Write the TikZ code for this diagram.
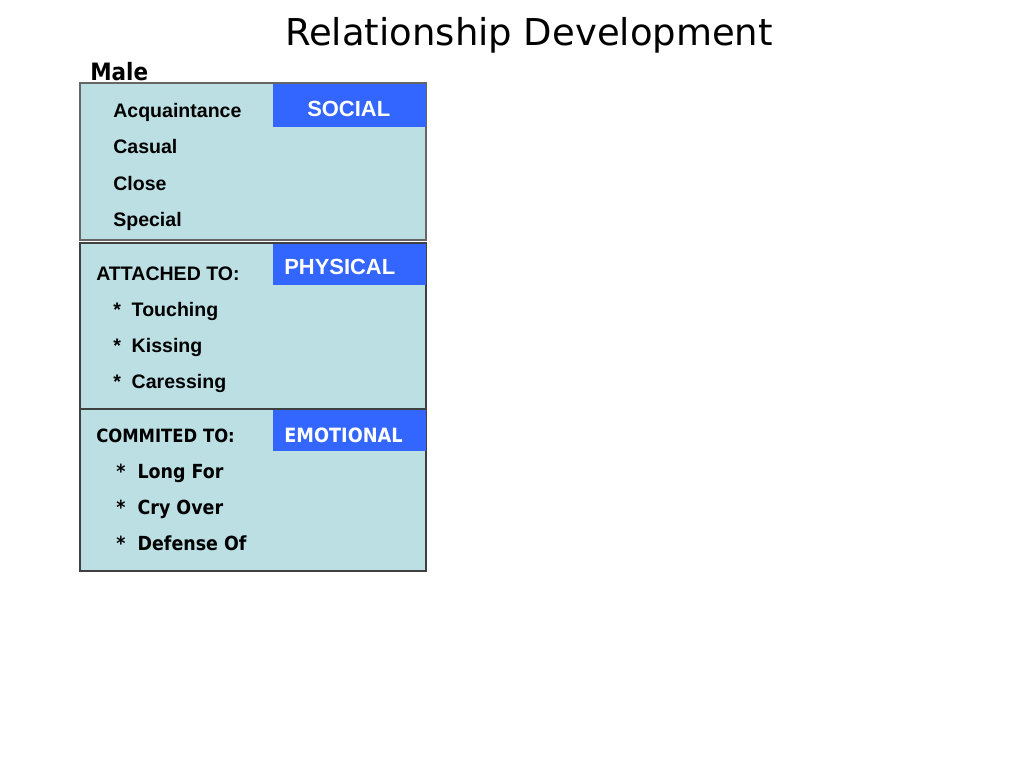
\documentclass[tikz,border=0pt]{standalone}
\usepackage{fontspec}
\setmainfont{Liberation Sans}
\newfontfamily\titlefont{DejaVu Sans}
\newfontfamily\tahfont[FakeStretch=0.9]{DejaVu Sans}
\definecolor{boxfill}{HTML}{BBDFE3}
\definecolor{tagblue}{HTML}{3366FF}
\tikzset{
  item/.style={anchor=base west, inner sep=0pt, font=\fontsize{13.9}{16}\selectfont\bfseries},
  titem/.style={anchor=base west, inner sep=0pt, font=\tahfont\fontsize{13.8}{16}\selectfont\bfseries},
  tag/.style={anchor=base west, inner sep=0pt, text=white, font=\fontsize{15.6}{18}\selectfont\bfseries},
  panel/.style={fill=boxfill, draw=black!75, line width=0.8pt}
}
\begin{document}
\begin{tikzpicture}[x=0.025cm, y=-0.025cm]
\useasboundingbox (0,0) rectangle (1024,768);
\node[anchor=base, inner sep=0pt, font=\titlefont\fontsize{26.3}{30}\selectfont] (title) at (529,46) {Relationship Development};
\node[anchor=base west, inner sep=0pt, font=\tahfont\fontsize{17}{20}\selectfont\bfseries] (male) at (90,80.5) {Male};
% panels
\draw[panel, draw=black!60] (80,83) rectangle (426,240);
\draw[panel] (80,243) rectangle (426,409);
\draw[panel] (80,409) rectangle (426,571);
\fill[tagblue] (273,84) rectangle (426,127);
\fill[tagblue] (273,244) rectangle (426,285);
\fill[tagblue] (273,410) rectangle (426,451);
\node[tag] (social) at (307,116.5) {SOCIAL};
\node[tag] (physical) at (284,274.5) {PHYSICAL};
\node[tag, font=\tahfont\fontsize{14}{16}\selectfont\bfseries] (emotional) at (284,442.5) {EMOTIONAL};
% social
\foreach \word [count=\i from 0] in {Acquaintance,Casual,Close,Special}{
\node[item] (soc\i) at (113,118+36*\i) {\word};
}
% physical
\node[item] (attached) at (96,280) {ATTACHED TO:};
\foreach \word [count=\i from 0] in {Touching,Kissing,Caressing}{
\node[item] (phy\i) at (113,316+36*\i) {*~~\word};
}
% emotional
\node[titem, font=\tahfont\fontsize{13}{16}\selectfont\bfseries] (commited) at (96,442.6) {COMMITED TO:};
\foreach \word [count=\i from 0] in {Long For,Cry Over,Defense Of}{
\node[titem] (emo\i) at (116,478+36*\i) {*~~\word};
}
\end{tikzpicture}
\end{document}
